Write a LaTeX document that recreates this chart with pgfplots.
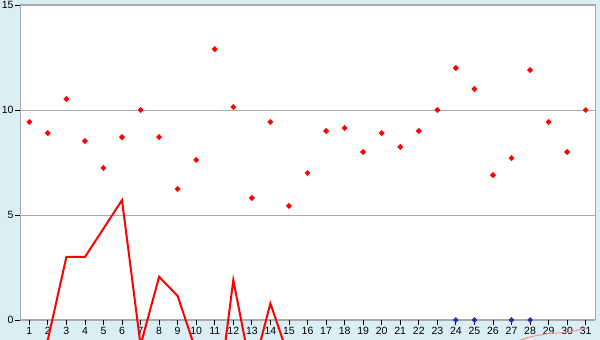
\documentclass[border=0pt]{standalone}
\usepackage{pgfplots}
\pgfplotsset{compat=1.18}
\usepackage{fontspec}
\setmainfont{Liberation Sans}
\definecolor{bgblue}{HTML}{DAEEF5}
\definecolor{gridgray}{HTML}{AAAAAA}
\definecolor{mkblue}{HTML}{2828B4}
\definecolor{pinkline}{HTML}{FF8C8C}
\begin{document}
\begin{tikzpicture}[x=1pt,y=1pt]
\path[use as bounding box] (0,0) rectangle (600,340);
\fill[bgblue] (0,0) rectangle (600,340);
\clip (0,0) rectangle (600,340);
\begin{axis}[
  at={(20pt,20pt)}, anchor=south west,
  scale only axis, width=575pt, height=315pt,
  xmin=0.5, xmax=31.5, ymin=0, ymax=15,
  clip=false,
  axis background/.style={fill=white},
  axis line style={gridgray, line width=1pt},
  xtick={1,...,31}, ytick={0,5,10,15},
  ymajorgrids, grid style={gridgray, line width=0.8pt},
  tick pos=left, tick align=outside,
  major tick length=5pt,
  tick style={black, line width=0.8pt},
  tick label style={font=\fontsize{10.5}{12}\selectfont},
  /pgf/number format/assume math mode=true,
  xticklabel style={yshift=1pt},
  yticklabel style={xshift=2pt},
]
\addplot[red, line width=2pt, mark=none] coordinates {
(2,-0.95) (3,3.0) (4,3.0) (5,4.35) (6,5.71) (7,-1.2) (8,2.06) (9,1.14)
(10,-1.5) (11,-5) (12,1.9) (13,-2.6) (14,0.79) (15,-1.8)
};
\addplot[pinkline, line width=0.9pt, mark=none] coordinates {
(27,-1.1) (28,-0.8) (29,-0.64) (30,-0.6) (31,-0.4)
};
\addplot[only marks, mark=square*, mark options={rotate=45}, mark size=1.9pt, red] coordinates {
(1,9.43) (2,8.9) (3,10.52) (4,8.52) (5,7.24) (6,8.71) (7,10.0) (8,8.71)
(9,6.24) (10,7.62) (11,12.9) (12,10.14) (13,5.81) (14,9.43) (15,5.43)
(16,7.0) (17,9.0) (18,9.14) (19,8.0) (20,8.9) (21,8.24) (22,9.0) (23,10.0)
(24,12.0) (25,11.0) (26,6.9) (27,7.71) (28,11.9) (29,9.43) (30,8.0) (31,10.0)
};
\addplot[only marks, mark=square*, mark options={rotate=45}, mark size=1.8pt, mkblue] coordinates {
(24,0) (25,0) (27,0) (28,0)
};
\end{axis}
\end{tikzpicture}
\end{document}
